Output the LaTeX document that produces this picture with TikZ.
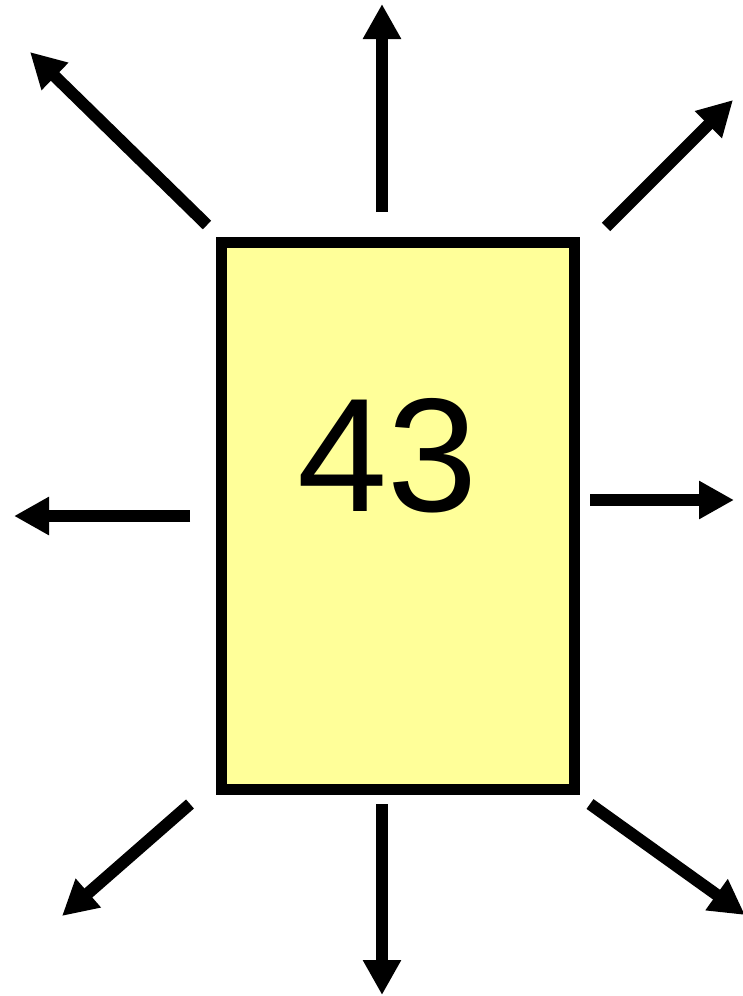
\documentclass[tikz,border=0pt]{standalone}
\usepackage{fontspec}
\setmainfont{Liberation Sans}
\usetikzlibrary{arrows.meta}
\definecolor{boxfill}{HTML}{FFFF99}
\tikzset{
  ray/.style={line width=12pt, -{Triangle[length=35pt,width=36pt]}},
  boxstyle/.style={draw=black, line width=11pt, fill=boxfill, minimum width=353pt, minimum height=547pt, inner sep=0pt},
}
\begin{document}
\begin{tikzpicture}[x=1pt,y=-1pt]
\useasboundingbox (0,0) rectangle (743,996);
\node[boxstyle] (box) at (397.5,515.5) {};
\node[anchor=base, inner sep=0pt, font=\fontsize{162}{170}\selectfont] (lbl) at (388,511) {43};
% tails
\coordinate (tT) at (382,212);
\coordinate (tTL) at (207,225);
\coordinate (tTR) at (606,227);
\coordinate (tL) at (190,516);
\coordinate (tR) at (590,500);
\coordinate (tBL) at (190,804);
\coordinate (tB) at (382,804);
\coordinate (tBR) at (590,804);
% tips
\coordinate (hT) at (382,4);
\coordinate (hTL) at (30,52);
\coordinate (hTR) at (733,100);
\coordinate (hL) at (14,516);
\coordinate (hR) at (734,500);
\coordinate (hBL) at (62,916);
\coordinate (hB) at (382,995);
\coordinate (hBR) at (745,915);
\draw[ray] (tT) -- (hT);
\draw[ray] (tTL) -- (hTL);
\draw[ray] (tTR) -- (hTR);
\draw[ray] (tL) -- (hL);
\draw[ray] (tR) -- (hR);
\draw[ray] (tBL) -- (hBL);
\draw[ray] (tB) -- (hB);
\draw[ray] (tBR) -- (hBR);
\end{tikzpicture}
\end{document}
